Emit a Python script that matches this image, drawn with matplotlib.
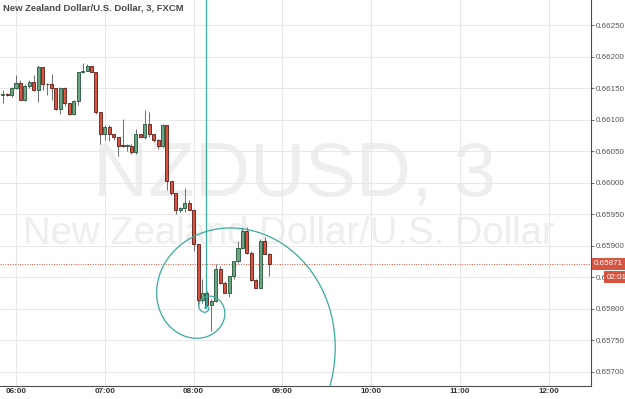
import matplotlib
matplotlib.use("Agg")
import matplotlib.pyplot as plt
import matplotlib.transforms as mtransforms
import numpy as np

# 3-minute NZDUSD candles, first bar at 05:51
first_bar = 5.85          # hours
bar_step = 0.05           # 3 minutes in hours

opens = [0.66139, 0.66140, 0.66139, 0.66150, 0.66158, 0.66131, 0.66153, 0.66160, 0.66147, 0.66183,
         0.66157, 0.66156, 0.66150, 0.66117, 0.66150, 0.66126, 0.66109, 0.66129, 0.66175, 0.66177,
         0.66185, 0.66175, 0.66112, 0.66078, 0.66088, 0.66077, 0.66072, 0.66059, 0.66058, 0.66059,
         0.66048, 0.66077, 0.66072, 0.66093, 0.66077, 0.66067, 0.66058, 0.66091, 0.66002, 0.65983,
         0.65956, 0.65959, 0.65968, 0.65957, 0.65902, 0.65814, 0.65825, 0.65806, 0.65812, 0.65863,
         0.65841, 0.65825, 0.65851, 0.65875, 0.65897, 0.65924, 0.65889, 0.65846, 0.65833, 0.65908,
         0.65887]
highs = [0.66147, 0.66142, 0.66152, 0.66171, 0.66163, 0.66156, 0.66163, 0.66171, 0.66187, 0.66184,
         0.66158, 0.66172, 0.66150, 0.66152, 0.66152, 0.66126, 0.66131, 0.66175, 0.66190, 0.66188,
         0.66185, 0.66175, 0.66112, 0.66091, 0.66091, 0.66078, 0.66072, 0.66101, 0.66061, 0.66062,
         0.66086, 0.66078, 0.66115, 0.66113, 0.66078, 0.66069, 0.66093, 0.66091, 0.66002, 0.65983,
         0.65961, 0.65991, 0.65972, 0.65958, 0.65902, 0.65847, 0.65828, 0.65816, 0.65871, 0.65868,
         0.65844, 0.65852, 0.65873, 0.65908, 0.65929, 0.65929, 0.65892, 0.65847, 0.65911, 0.65913,
         0.65889]
lows = [0.66126, 0.66137, 0.66136, 0.66148, 0.66131, 0.66129, 0.66150, 0.66145, 0.66128, 0.66147,
        0.66139, 0.66131, 0.66115, 0.66109, 0.66121, 0.66107, 0.66107, 0.66123, 0.66174, 0.66177,
        0.66175, 0.66109, 0.66062, 0.66067, 0.66066, 0.66067, 0.66043, 0.66056, 0.66050, 0.66046,
        0.66046, 0.66072, 0.66070, 0.66072, 0.66064, 0.66054, 0.66056, 0.65988, 0.65981, 0.65951,
        0.65954, 0.65953, 0.65957, 0.65892, 0.65804, 0.65809, 0.65804, 0.65765, 0.65811, 0.65839,
        0.65824, 0.65819, 0.65847, 0.65873, 0.65894, 0.65887, 0.65844, 0.65832, 0.65832, 0.65886,
        0.65852]
closes = [0.66140, 0.66139, 0.66150, 0.66158, 0.66131, 0.66153, 0.66160, 0.66147, 0.66183, 0.66156,
          0.66156, 0.66150, 0.66117, 0.66150, 0.66126, 0.66109, 0.66129, 0.66175, 0.66177, 0.66185,
          0.66175, 0.66112, 0.66078, 0.66088, 0.66077, 0.66072, 0.66058, 0.66058, 0.66059, 0.66048,
          0.66077, 0.66072, 0.66093, 0.66077, 0.66067, 0.66058, 0.66091, 0.66002, 0.65983, 0.65956,
          0.65959, 0.65968, 0.65957, 0.65902, 0.65814, 0.65825, 0.65806, 0.65812, 0.65863, 0.65841,
          0.65825, 0.65851, 0.65875, 0.65897, 0.65924, 0.65889, 0.65846, 0.65833, 0.65908, 0.65887,
          0.65871]

hour_ticks = [6, 7, 8, 9, 10, 11, 12]
hour_labels = ["06:00", "07:00", "08:00", "09:00", "10:00", "11:00", "12:00"]
price_ticks = [0.6570, 0.65750, 0.6580, 0.65850, 0.6590, 0.65950, 0.6600,
               0.66050, 0.6610, 0.66150, 0.6620, 0.66250]
last_price = 0.65871
countdown = "02:01"

# fib spiral drawing: anchor (time, price) and first radius in pixels
spiral_time = 8.1396
spiral_price = 0.658013
spiral_r0 = 18.0

UP, DOWN = "#6ba583", "#d75442"
UP_EDGE, DOWN_EDGE = "#225437", "#5b1a13"
WICK = "#737375"
TEAL = "#3aab9c"

fig = plt.figure(figsize=(6.25, 3.99), dpi=100)
ax = fig.add_axes([0, 13 / 399, 591 / 625, 386 / 399])
ax.set_xlim(5.8198, 12.475)
ax.set_ylim(0.656771, 0.662901)

# watermark
ax.text(0.499, 0.4935, "NZDUSD, 3", transform=ax.transAxes, ha="center", va="baseline",
        fontsize=55, color="#eeeeee", family="Liberation Sans", zorder=0)
ax.text(0.488, 0.369, "New Zealand Dollar/U.S. Dollar", transform=ax.transAxes, ha="center",
        va="baseline", fontsize=27.5, color="#eeeeee", family="Liberation Sans", zorder=0)

ax.grid(color="#e8e8e8", lw=0.75, zorder=0.5)
ax.set_axisbelow(True)

t = first_bar + bar_step * np.arange(len(opens))
o = np.array(opens)
c = np.array(closes)
up = c >= o
bottoms = np.minimum(o, c)
heights = np.maximum(np.abs(c - o), 0.000012)

ax.vlines(t, lows, highs, color=WICK, lw=0.75, zorder=2)
ax.bar(t, heights, bottom=bottoms, width=0.034,
       color=np.where(up, UP, DOWN), edgecolor=np.where(up, UP_EDGE, DOWN_EDGE),
       linewidth=0.6, zorder=3)

# last price line
ax.axhline(last_price, color=DOWN, ls=(0, (1, 1.5)), lw=0.7, zorder=1)

# golden spiral drawn in pixel space around the anchor
phi = (1 + 5 ** 0.5) / 2
th = np.linspace(-8 * np.pi, 3 * np.pi, 3000)
r = spiral_r0 * phi ** (2 * th / np.pi)
sx = r * np.cos(th)
sy = r * np.sin(th)
spiral_tr = (mtransforms.Affine2D().scale(0.01, -0.01) + fig.dpi_scale_trans
             + mtransforms.ScaledTranslation(spiral_time, spiral_price, ax.transData))
ax.plot(sx, sy, color=TEAL, lw=0.9, transform=spiral_tr, zorder=4)
ax.plot([spiral_time, spiral_time], [spiral_price, 0.662901], color=TEAL, lw=0.9, zorder=4)

# axes styling
for side in ["top", "left"]:
    ax.spines[side].set_visible(False)
for side in ["right", "bottom"]:
    ax.spines[side].set_color("#4d4d4d")
    ax.spines[side].set_linewidth(0.8)

ax.yaxis.tick_right()
ax.set_yticks(price_ticks)
ax.set_yticklabels(["%.5f" % p for p in price_ticks])
ax.tick_params(axis="y", length=2.2, width=0.6, color="#555555", pad=1,
               labelsize=5.8, labelcolor="#555555")
ax.set_xticks(hour_ticks)
ax.set_xticklabels(hour_labels)
ax.tick_params(axis="x", length=0, pad=1.6, labelsize=5.8, labelcolor="#333333")
for lbl in ax.get_xticklabels():
    lbl.set_family("Liberation Sans")
    lbl.set_fontweight("bold")
for lbl in ax.get_yticklabels():
    lbl.set_family("Liberation Sans")

ax.annotate("%.5f" % last_price, xy=(1, last_price), xycoords=ax.get_yaxis_transform(),
            xytext=(2.2, 0), textcoords="offset points", ha="left", va="center",
            fontsize=5.8, color="white", family="Liberation Sans",
            bbox=dict(boxstyle="square,pad=0.3", fc=DOWN, ec="none"), annotation_clip=False)
ax.annotate(countdown, xy=(1, 0.6585), xycoords=ax.get_yaxis_transform(),
            xytext=(11, 0), textcoords="offset points", ha="left", va="center",
            fontsize=5.8, color="white", family="Liberation Sans",
            bbox=dict(boxstyle="square,pad=0.3", fc=DOWN, ec="none"), annotation_clip=False)

fig.text(3 / 625, 1 - 7.5 / 399, "New Zealand Dollar/U.S. Dollar, 3, FXCM", ha="left",
         va="center", fontsize=6.8, fontweight="bold", color="#4a4a4a", family="Liberation Sans")

fig.savefig("out.png", dpi=100)
